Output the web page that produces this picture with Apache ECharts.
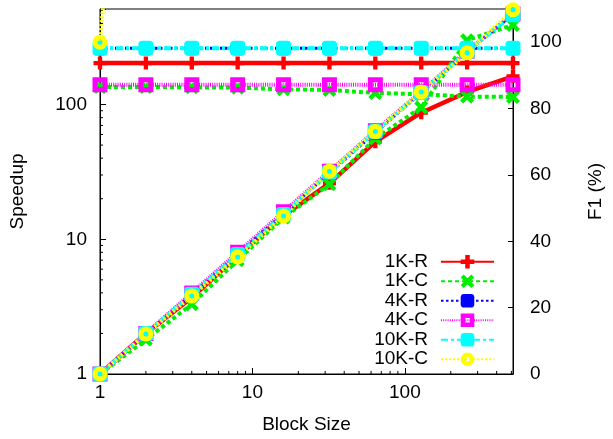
<!DOCTYPE html>
<html><head><meta charset="utf-8">
<script src="https://cdn.jsdelivr.net/npm/echarts@6/dist/echarts.min.js"></script>
<style>html,body{margin:0;padding:0;background:#fff}#c{width:613px;height:439px}</style>
</head><body><div id="c"></div>
<script>
// ---- data ----
const blockSizes = [1, 2, 4, 8, 16, 32, 64, 128, 256, 512];
const seriesNames = ['1K-R', '1K-C', '4K-R', '4K-C', '10K-R', '10K-C'];

const speedup1KR  = [1, 2.0, 3.7, 7.5, 15.0, 26, 53, 87, 124, 162];
const speedup1KC  = [1, 1.8, 3.3, 7.0, 14.5, 25.6, 56, 95, 300, 390];
const speedup4KR  = [1, 2.0, 3.9, 7.8, 15.5, 31, 62, 122, 245, 470];
const speedup4KC  = [1, 2.0, 4.0, 8.0, 16.0, 32, 64, 125, 250, 470];
const speedup10KR = [1, 2.0, 3.9, 7.7, 15.3, 31.5, 63, 123, 248, 464];
const speedup10KC = [1, 1.98, 3.8, 7.4, 14.9, 32, 63, 124, 242, 505];

const f1_1KR  = [93.7, 93.7, 93.7, 93.7, 93.7, 93.7, 93.7, 93.7, 93.7, 93.7];
const f1_1KC  = [86.5, 86.5, 86.4, 86.3, 85.8, 85.6, 84.7, 84.3, 83.6, 83.5];
const f1_4KR  = [98.2, 98.2, 98.2, 98.2, 98.2, 98.2, 98.2, 98.2, 98.2, 98.2];
const f1_4KC  = [87.2, 87.2, 87.2, 87.2, 87.2, 87.2, 87.2, 87.2, 87.2, 87.2];
const f1_10KR = [98.2, 98.2, 98.2, 98.2, 98.2, 98.2, 98.2, 98.2, 98.2, 98.2];
const f1_10KC = [100, 260];

const xMajorTicks = [1, 10, 100];
const yMajorTicks = [1, 10, 100];
const minorTicks = [2, 3, 4, 5, 6, 7, 8, 9, 20, 30, 40, 50, 60, 70, 80, 90, 200, 300, 400, 500];
const f1TickStep = 20;

// ---- styles ----
const plusPath = 'path://M4,0H8V4H12V8H8V12H4V8H0V4H4Z';
const crossPath = 'path://M0,2.6L2.6,0L6,3.4L9.4,0L12,2.6L8.6,6L12,9.4L9.4,12L6,8.6L2.6,12L0,9.4L3.4,6Z';
const holeSquare = 'path://M0,0H15V15H0Z M5,5V10H10V5Z';
const holeCircle = 'path://M0,7.5A7.5,7.5,0,1,1,15,7.5A7.5,7.5,0,1,1,0,7.5Z M5,7.5A2.5,2.5,0,1,0,10,7.5A2.5,2.5,0,1,0,5,7.5Z';
const styleMap = {
  '1K-R':  {color: '#ff0000', width: 4.5, type: 'solid',      symbol: plusPath,   size: 13},
  '1K-C':  {color: '#00ee00', width: 4,   type: [4, 3],       symbol: crossPath,  size: 14},
  '4K-R':  {color: '#0000ff', width: 3,   type: [2.5, 2.5],   symbol: 'roundRect',size: 14},
  '4K-C':  {color: '#ff00ff', width: 4,   type: [1, 1.2],     symbol: holeSquare, size: 15},
  '10K-R': {color: '#00ffff', width: 4,   type: [7, 3, 3, 3], symbol: 'roundRect',size: 15},
  '10K-C': {color: '#ffff00', width: 4,   type: [2, 2],       symbol: holeCircle, size: 15}
};

const speedups = [speedup1KR, speedup1KC, speedup4KR, speedup4KC, speedup10KR, speedup10KC];
const f1s = [f1_1KR, f1_1KC, f1_4KR, f1_4KC, f1_10KR, f1_10KC];

function pairs(vals) { return vals.map((v, i) => [blockSizes[i], v]); }

const series = [];
seriesNames.forEach((name, k) => {
  const st = styleMap[name];
  const base = {
    type: 'line', name: name, symbol: st.symbol, symbolSize: st.size,
    showAllSymbol: true,
    lineStyle: {color: st.color, width: st.width, type: st.type},
    itemStyle: {color: st.color},
    emphasis: {disabled: true}, animation: false
  };
  series.push(Object.assign({}, base, {yAxisIndex: 0, data: pairs(speedups[k])}));
  series.push(Object.assign({}, base, {yAxisIndex: 1, data: pairs(f1s[k])}));
});

// minor ticks on log axes drawn through the axes' scales
series.push({
  type: 'custom', name: 'xminor', xAxisIndex: 0, yAxisIndex: 0, silent: true, clip: false,
  data: minorTicks.map(v => [v, 1]),
  renderItem: (p, api) => {
    const pt = api.coord([api.value(0), api.value(1)]);
    return {type: 'line', shape: {x1: pt[0], y1: pt[1], x2: pt[0], y2: pt[1] - 3}, style: {stroke: '#000', lineWidth: 1}};
  }
});
series.push({
  type: 'custom', name: 'yminor', xAxisIndex: 0, yAxisIndex: 0, silent: true, clip: false,
  data: minorTicks.map(v => [1, v]),
  renderItem: (p, api) => {
    const pt = api.coord([api.value(0), api.value(1)]);
    return {type: 'line', shape: {x1: pt[0], y1: pt[1], x2: pt[0] + 3, y2: pt[1]}, style: {stroke: '#000', lineWidth: 1}};
  }
});

const font = '"Liberation Sans", Arial, sans-serif';
const isMajor = v => xMajorTicks.some(t => Math.abs(t - v) < 1e-6 * t);

const chart = echarts.init(document.getElementById('c'), null, {renderer: 'canvas'});
chart.setOption({
  animation: false,
  backgroundColor: '#fff',
  textStyle: {fontFamily: font, color: '#000'},
  grid: {left: 95, right: 94, top: 9, bottom: 64, show: true, borderColor: '#000', borderWidth: 1, backgroundColor: 'transparent'},
  legend: {
    data: seriesNames, orient: 'vertical', align: 'right', right: 118, top: 252, padding: 0,
    itemWidth: 53, itemHeight: 17, itemGap: 0,
    selectedMode: false,
    textStyle: {fontFamily: font, fontSize: 19, color: '#000', lineHeight: 19.5, padding: [0, 8, 0, 0]}
  },
  xAxis: {
    type: 'log', logBase: 10, min: 1, max: 512,
    name: 'Block Size', nameLocation: 'middle', nameGap: 41,
    nameTextStyle: {fontFamily: font, fontSize: 19, color: '#000'},
    axisLine: {lineStyle: {color: '#000', width: 1}},
    axisTick: {inside: true, length: 6, lineStyle: {color: '#000'}},
    axisLabel: {fontFamily: font, fontSize: 19, color: '#000', margin: 9, formatter: v => isMajor(v) ? String(Math.round(v)) : ''},
    splitLine: {show: false}
  },
  yAxis: [{
    type: 'log', logBase: 10, min: 1, max: 512,
    name: 'Speedup', nameLocation: 'middle', nameGap: 73, nameRotate: 90,
    nameTextStyle: {fontFamily: font, fontSize: 19, color: '#000'},
    axisLine: {lineStyle: {color: '#000', width: 1}},
    axisTick: {inside: true, length: 6, lineStyle: {color: '#000'}},
    axisLabel: {fontFamily: font, fontSize: 19, color: '#000', margin: 13, formatter: v => isMajor(v) ? String(Math.round(v)) : ''},
    splitLine: {show: false}
  }, {
    type: 'value', min: 0, max: 110, interval: f1TickStep, position: 'right',
    name: 'F1 (%)', nameLocation: 'middle', nameGap: 73, nameRotate: 90,
    nameTextStyle: {fontFamily: font, fontSize: 19, color: '#000'},
    axisLine: {show: true, lineStyle: {color: '#000', width: 1}},
    axisTick: {inside: true, length: 5, lineStyle: {color: '#000'}},
    axisLabel: {fontFamily: font, fontSize: 19, color: '#000', margin: 17, showMaxLabel: false, formatter: v => v > 100 ? '' : String(v)},
    splitLine: {show: false}
  }],
  series: series
});
</script></body></html>
